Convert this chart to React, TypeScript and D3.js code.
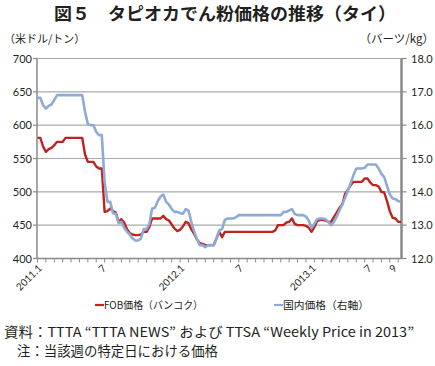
import React from "react";
import * as d3 from "d3";

// FOB price (Bangkok), US$/ton — left axis
const fobPrice: number[] = [
  581, 581, 568, 560, 564, 566, 570, 575, 575, 575,
  581, 581, 581, 581, 581, 581, 581, 556, 545, 545,
  545, 538, 535, 535, 470, 471, 475, 471, 469, 455,
  459, 454, 444, 438, 436, 435, 435, 436, 440, 440,
  447, 460, 460, 460, 460, 464, 459, 457, 451, 445,
  441, 443, 448, 455, 453, 444, 437, 429, 423, 422,
  420, 420, 420, 420, 430, 440, 432, 440, 440, 440,
  440, 440, 440, 440, 440, 440, 440, 440, 440, 440,
  440, 440, 440, 440, 440, 442, 450, 450, 450, 454,
  455, 460, 452, 450, 450, 450, 449, 446, 440, 447,
  456, 458, 458, 457, 455, 455, 462, 469, 476, 481,
  497, 503, 510, 515, 515, 515, 515, 520, 520, 514,
  510, 510, 508, 500, 499, 486, 471, 461, 460, 455,
  455,
];

// Domestic price, baht/kg — right axis
const domesticPrice: number[] = [
  16.82, 16.82, 16.6, 16.5, 16.58, 16.62, 16.76, 16.9, 16.9, 16.9,
  16.9, 16.9, 16.9, 16.9, 16.9, 16.9, 16.9, 16.4, 16.04, 16.0,
  16.0, 15.8, 15.7, 15.7, 14.3, 13.7, 13.7, 13.36, 13.34, 13.06,
  13.1, 12.92, 12.8, 12.72, 12.6, 12.54, 12.54, 12.6, 12.88, 12.88,
  13.04, 13.5, 13.52, 13.72, 13.86, 13.92, 13.7, 13.62, 13.48, 13.4,
  13.4, 13.36, 13.34, 13.48, 13.44, 13.1, 12.82, 12.58, 12.4, 12.4,
  12.34, 12.4, 12.4, 12.4, 12.6, 12.84, 12.88, 13.16, 13.2, 13.2,
  13.2, 13.24, 13.3, 13.3, 13.3, 13.3, 13.3, 13.3, 13.3, 13.3,
  13.3, 13.3, 13.3, 13.3, 13.3, 13.3, 13.3, 13.3, 13.4, 13.4,
  13.44, 13.48, 13.34, 13.3, 13.3, 13.3, 13.26, 13.14, 12.92, 13.04,
  13.18, 13.2, 13.2, 13.18, 13.1, 13.0, 13.1, 13.26, 13.44, 13.62,
  13.82, 14.04, 14.26, 14.5, 14.7, 14.7, 14.7, 14.72, 14.82, 14.82,
  14.82, 14.82, 14.7, 14.54, 14.44, 14.18, 13.92, 13.8, 13.78, 13.72,
  13.7,
];

const xLabelIndex: number[] = [0, 23, 51, 72, 98, 118, 127];
const xLabelText: string[] = ["2011.1", "7", "2012.1", "7", "2013.1", "7", "9"];
const leftTicks: number[] = [400, 450, 500, 550, 600, 650, 700];
const rightTicks: number[] = [12, 13, 14, 15, 16, 17, 18];

const RED = "#c0231e";
const BLUE = "#8eaad6";
const AXIS = "#8a8a8a";
const GRID = "#aaaaaa";
const NUM_FONT = "Lato, 'Liberation Sans', sans-serif";
const JP_FONT = "'Noto Sans CJK JP', 'Noto Sans', sans-serif";

export default function App() {
  const W = 435;
  const H = 366;
  const left = 37;
  const right = 401.5;
  const top = 58.5;
  const bottom = 258.5;
  const n = fobPrice.length;

  const x = d3.scaleLinear().domain([0, n - 1]).range([37.5, 401]);
  const yL = d3.scaleLinear().domain([400, 700]).range([bottom, top]);
  const yR = d3.scaleLinear().domain([12, 18]).range([bottom, top]);

  const fobLine = d3
    .line<number>()
    .x((_, i) => x(i))
    .y((d) => yL(d));
  const domLine = d3
    .line<number>()
    .x((_, i) => x(i))
    .y((d) => yR(d));

  const minorTicks = d3.range(0, n, 3);

  return (
    <svg
      width={W}
      height={H}
      style={{ position: "absolute", left: 0, top: 0, background: "#fff" }}
    >
      <text
        x={54}
        y={20}
        textLength={342}
        lengthAdjust="spacingAndGlyphs"
        fontFamily={JP_FONT}
        fontWeight="bold"
        fontSize={17.5}
        fill="#231f20"
      >
        図５　タピオカでん粉価格の推移（タイ）
      </text>

      <text x={4} y={43} fontFamily={JP_FONT} fontSize={11} fill="#231f20">
        （米ドル/トン）
      </text>
      <text
        x={434}
        y={43}
        textAnchor="end"
        fontFamily={JP_FONT}
        fontSize={11.5}
        fill="#231f20"
      >
        （バーツ/kg）
      </text>

      {/* gridlines */}
      {leftTicks
        .filter((t) => t > 400)
        .map((t) => (
          <line
            key={"g" + t}
            x1={left}
            x2={right}
            y1={yL(t)}
            y2={yL(t)}
            stroke={GRID}
            strokeWidth={1.2}
          />
        ))}

      {/* left axis */}
      <line x1={left} x2={left} y1={top} y2={bottom} stroke={AXIS} strokeWidth={1.5} />
      {leftTicks.map((t) => (
        <g key={"l" + t}>
          <line x1={left - 4} x2={left} y1={yL(t)} y2={yL(t)} stroke={AXIS} strokeWidth={1.2} />
          <text
            x={32}
            y={yL(t) + 4}
            textAnchor="end"
            fontFamily={NUM_FONT}
            fontSize={11}
            fill="#231f20"
          >
            {t}
          </text>
        </g>
      ))}

      {/* right axis */}
      <line x1={right} x2={right} y1={top} y2={bottom} stroke={AXIS} strokeWidth={2.5} />
      {rightTicks.map((t) => (
        <g key={"r" + t}>
          <line x1={right} x2={right + 5} y1={yR(t)} y2={yR(t)} stroke={AXIS} strokeWidth={1.2} />
          <text
            x={411}
            y={yR(t) + 4}
            fontFamily={NUM_FONT}
            fontSize={11}
            fill="#231f20"
          >
            {d3.format(".1f")(t)}
          </text>
        </g>
      ))}

      {/* bottom axis */}
      <line x1={left} x2={right} y1={bottom} y2={bottom} stroke={AXIS} strokeWidth={1.5} />
      {minorTicks.map((i) => (
        <line
          key={"t" + i}
          x1={x(i)}
          x2={x(i)}
          y1={bottom}
          y2={bottom + 4}
          stroke={AXIS}
          strokeWidth={1}
        />
      ))}
      {xLabelIndex.map((idx, k) => (
        <text
          key={"x" + k}
          transform={`translate(${x(idx) + 5},${269}) rotate(-45)`}
          textAnchor="end"
          fontFamily={NUM_FONT}
          fontSize={10}
          fill="#231f20"
        >
          {xLabelText[k]}
        </text>
      ))}

      {/* series */}
      <path d={fobLine(fobPrice) || ""} fill="none" stroke={RED} strokeWidth={2.4} strokeLinejoin="round" />
      <path d={domLine(domesticPrice) || ""} fill="none" stroke={BLUE} strokeWidth={2.6} strokeLinejoin="round" />

      {/* legend */}
      <line x1={95} x2={104} y1={305} y2={305} stroke={RED} strokeWidth={2.2} />
      <text
        x={104}
        y={309}
        textLength={99}
        lengthAdjust="spacingAndGlyphs"
        fontFamily={JP_FONT}
        fontSize={10.5}
        fill="#231f20"
      >
        FOB価格（バンコク）
      </text>
      <line x1={274} x2={283} y1={305} y2={305} stroke={BLUE} strokeWidth={2.2} />
      <text
        x={283}
        y={309}
        textLength={86}
        lengthAdjust="spacingAndGlyphs"
        fontFamily={JP_FONT}
        fontSize={10.5}
        fill="#231f20"
      >
        国内価格（右軸）
      </text>

      {/* notes */}
      <text
        x={4}
        y={337}
        textLength={410}
        lengthAdjust="spacingAndGlyphs"
        fontFamily={JP_FONT}
        fontSize={13.5}
        fill="#231f20"
      >
        資料：TTTA “TTTA NEWS” および TTSA “Weekly Price in 2013”
      </text>
      <text
        x={17}
        y={356}
        textLength={201}
        lengthAdjust="spacingAndGlyphs"
        fontFamily={JP_FONT}
        fontSize={13.3}
        fill="#231f20"
      >
        注：当該週の特定日における価格
      </text>
    </svg>
  );
}
